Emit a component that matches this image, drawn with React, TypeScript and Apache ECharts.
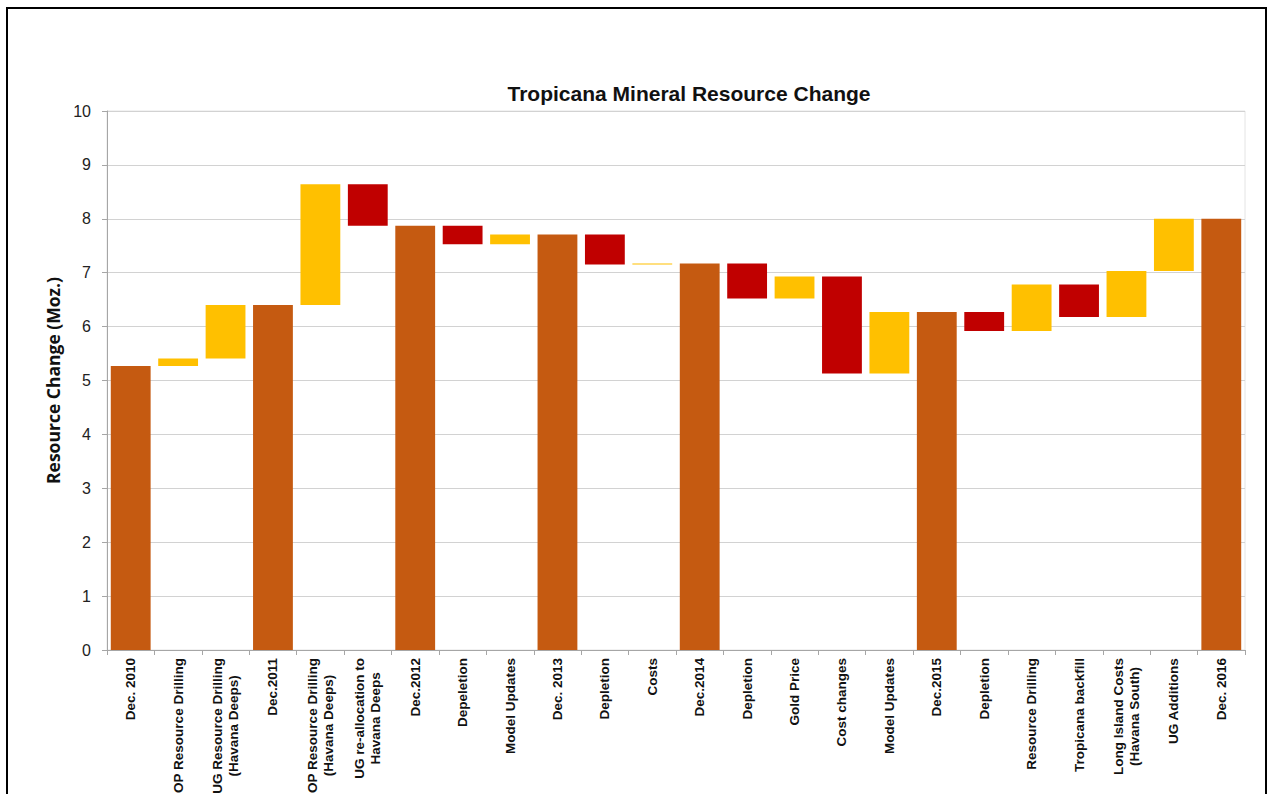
import React, { useEffect, useRef } from "react";
import * as echarts from "echarts";

const categories: string[] = [
  "Dec. 2010",
  "OP Resource Drilling",
  "UG Resource Drilling\n(Havana Deeps)",
  "Dec.2011",
  "OP Resource Drilling\n(Havana Deeps)",
  "UG re-allocation to\nHavana Deeps",
  "Dec.2012",
  "Depeletion",
  "Model Updates",
  "Dec. 2013",
  "Depletion",
  "Costs",
  "Dec.2014",
  "Depletion",
  "Gold Price",
  "Cost changes",
  "Model Updates",
  "Dec.2015",
  "Depletion",
  "Resource Drilling",
  "Tropicana backfill",
  "Long Island Costs\n(Havana South)",
  "UG Additions",
  "Dec. 2016",
];

// bottom of each floating bar (Moz.)
const lows: number[] = [
  0, 5.27, 5.41, 0, 6.4, 7.87, 0, 7.53, 7.53, 0, 7.15, 7.15,
  0, 6.52, 6.52, 5.13, 5.13, 0, 5.92, 5.92, 6.18, 6.18, 7.03, 0,
];
// top of each floating bar (Moz.)
const highs: number[] = [
  5.27, 5.41, 6.4, 6.4, 8.64, 8.64, 7.87, 7.87, 7.71, 7.71, 7.71, 7.17,
  7.17, 7.17, 6.93, 6.93, 6.27, 6.27, 6.27, 6.78, 6.78, 7.03, 8.0, 8.0,
];
const kinds: string[] = [
  "total", "up", "up", "total", "up", "down", "total", "down", "up", "total", "down", "up",
  "total", "down", "up", "down", "up", "total", "down", "up", "down", "up", "up", "total",
];

const yTicks: number[] = [0, 1, 2, 3, 4, 5, 6, 7, 8, 9, 10];

const COLORS: Record<string, string> = {
  total: "#C55A11",
  up: "#FFC000",
  down: "#C00000",
};

export default function App() {
  const ref = useRef<HTMLDivElement>(null);

  useEffect(() => {
    if (!ref.current) return;
    const chart = echarts.init(ref.current, undefined, { renderer: "svg" });

    const fmtLabel = (v: string) =>
      v
        .split("\n")
        .map((l) => `{a|${l}}`)
        .join("\n");

    chart.setOption({
      animation: false,
      backgroundColor: "#ffffff",
      title: {
        text: "Tropicana Mineral Resource Change",
        left: 684,
        top: 78,
        textAlign: "center",
        textStyle: {
          fontFamily: "Liberation Sans, Arial, sans-serif",
          fontWeight: "bold",
          fontSize: 21,
          color: "#111",
        },
      },
      graphic: [
        {
          type: "rect",
          shape: { x: 7, y: 8, width: 1259, height: 800 },
          style: { fill: "none", stroke: "#000", lineWidth: 2 },
          silent: true,
        },
      ],
      grid: {
        left: 107,
        right: 23,
        top: 111,
        bottom: 144,
        show: true,
        borderColor: "#e4e4e4",
        borderWidth: 1,
        containLabel: false,
        outerBoundsMode: "none",
      },
      xAxis: {
        type: "category",
        data: categories,
        axisLine: { show: true, lineStyle: { color: "#a6a6a6", width: 1 } },
        axisTick: { show: true, length: 5, lineStyle: { color: "#a6a6a6" } },
        axisLabel: {
          interval: 0,
          rotate: 90,
          margin: 8,
          formatter: fmtLabel,
          rich: {
            a: {
              align: "center",
              fontFamily: "Liberation Sans, Arial, sans-serif",
              fontWeight: "bold",
              fontSize: 13.5,
              lineHeight: 16,
              color: "#111",
            },
          },
        },
      },
      yAxis: {
        type: "value",
        min: 0,
        max: 10,
        interval: 1,
        name: "Resource Change (Moz.)",
        nameLocation: "middle",
        nameGap: 38,
        nameTextStyle: {
          fontFamily: "Open Sans, Liberation Sans, sans-serif",
          fontWeight: "bold",
          fontSize: 17.5,
          color: "#111",
        },
        axisLine: { show: true, lineStyle: { color: "#a6a6a6", width: 1 } },
        axisTick: { show: true, length: 5, lineStyle: { color: "#a6a6a6" } },
        axisLabel: {
          margin: 16,
          fontFamily: "Liberation Sans, Arial, sans-serif",
          fontSize: 16,
          color: "#222",
          formatter: (v: number) => (yTicks.includes(v) ? String(v) : ""),
        },
        splitLine: { show: true, lineStyle: { color: "#d2d2d2", width: 1 } },
      },
      series: [
        {
          name: "base",
          type: "bar",
          stack: "w",
          data: lows,
          itemStyle: { color: "transparent" },
          barCategoryGap: "16%",
          silent: true,
        },
        {
          name: "change",
          type: "bar",
          stack: "w",
          barCategoryGap: "16%",
          data: highs.map((h, i) => ({
            value: +(h - lows[i]).toFixed(3),
            itemStyle: { color: COLORS[kinds[i]] },
          })),
        },
      ],
    });

    return () => chart.dispose();
  }, []);

  return (
    <div
      ref={ref}
      style={{ position: "fixed", left: 0, top: 0, width: 1268, height: 794 }}
    />
  );
}
